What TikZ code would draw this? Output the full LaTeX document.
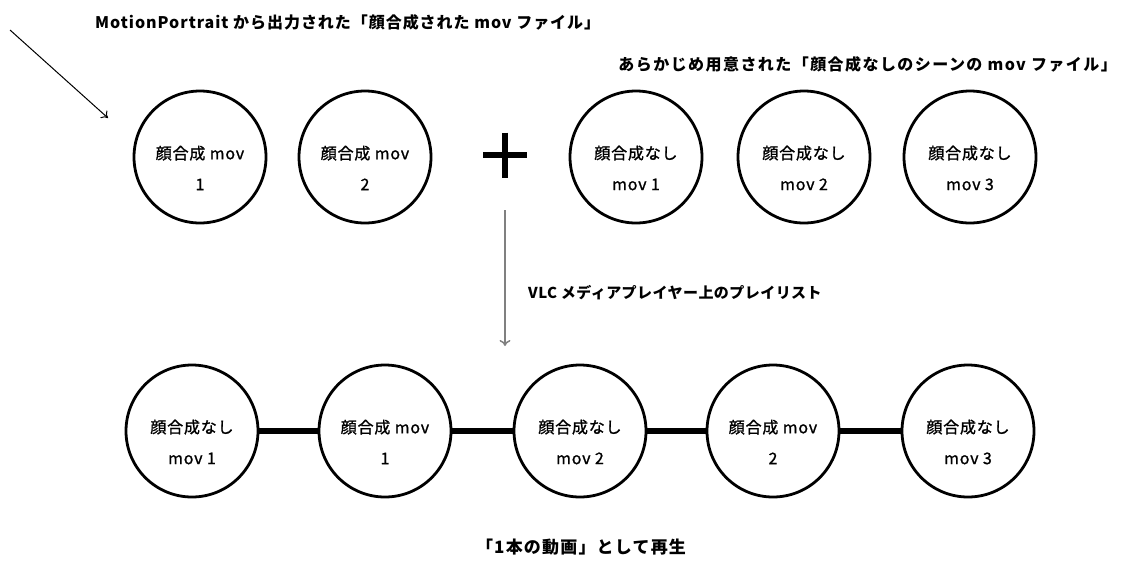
\documentclass[tikz,border=0pt]{standalone}
\usepackage{fontspec}
\setmainfont{Noto Sans CJK JP}
\newfontfamily\circfont{Noto Sans CJK JP}[FakeBold=1.2]
\usetikzlibrary{arrows.meta}
\begin{document}
\begin{tikzpicture}[x=1pt,y=-1pt,
  circ/.style={draw, circle, line width=2.8pt, minimum size=132pt, inner sep=0pt},
  ctext/.style={align=center, font=\circfont\addfontfeature{LetterSpace=5}\fontsize{16}{31}\selectfont, inner sep=0pt},
  lbl/.style={inner sep=0pt},
  link/.style={line width=5.5pt},
  plusbar/.style={line width=5.5pt},
  thinarrow/.style={line width=1pt, -{To[length=6pt,width=10pt]}},
  grayarrow/.style={line width=1.5pt, draw=black!50, -{To[length=6pt,width=11pt]}}]
\useasboundingbox (0,0) rectangle (1126,560);

% top row
\node[circ] (t1) at (200,157) {};
\node[circ] (t2) at (365,157) {};
\node[circ] (t3) at (636,157) {};
\node[circ] (t4) at (804,157) {};
\node[circ] (t5) at (970,157) {};
\node[ctext] at ([yshift=-11pt]t1.center) {顔合成 mov\\1};
\node[ctext] at ([yshift=-11pt]t2.center) {顔合成 mov\\2};
\node[ctext] at ([yshift=-11pt]t3.center) {顔合成なし\\mov 1};
\node[ctext] at ([yshift=-11pt]t4.center) {顔合成なし\\mov 2};
\node[ctext] at ([yshift=-11pt]t5.center) {顔合成なし\\mov 3};

% plus sign
\coordinate (plus) at (505,155);
\draw[plusbar] ([xshift=-22pt]plus) -- ([xshift=22pt]plus);
\draw[plusbar] ([yshift=22.5pt]plus) -- ([yshift=-22.5pt]plus);

% labels
\node[lbl, anchor=west, font=\bfseries\addfontfeature{LetterSpace=6}\fontsize{16}{20}\selectfont] (lab1) at (95,22) {MotionPortrait から出力された「顔合成された mov ファイル」};
\node[lbl, anchor=east, font=\bfseries\addfontfeature{LetterSpace=9}\fontsize{16}{20}\selectfont] (lab2) at (1117,64) {あらかじめ用意された「顔合成なしのシーンの mov ファイル」};
\node[lbl, anchor=west, font=\bfseries\addfontfeature{LetterSpace=3}\fontsize{15}{18}\selectfont] (lab3) at (528,293) {VLC メディアプレイヤー上のプレイリスト};
\node[lbl, font=\bfseries\addfontfeature{LetterSpace=7}\fontsize{17}{20}\selectfont] (lab4) at (581,547) {「1本の動画」として再生};

% arrows
\coordinate (a0) at (10,30);
\coordinate (a1) at (108,118);
\draw[thinarrow] (a0) -- (a1);
\coordinate (g0) at (505,210);
\coordinate (g1) at (505,346);
\draw[grayarrow] (g0) -- (g1);

% bottom row
\node[circ] (b1) at (192,431) {};
\node[circ] (b2) at (385,431) {};
\node[circ] (b3) at (580,431) {};
\node[circ] (b4) at (773,431) {};
\node[circ] (b5) at (968,431) {};
\draw[link] (b1) -- (b2);
\draw[link] (b2) -- (b3);
\draw[link] (b3) -- (b4);
\draw[link] (b4) -- (b5);
\node[ctext] at ([yshift=-11pt]b1.center) {顔合成なし\\mov 1};
\node[ctext] at ([yshift=-11pt]b2.center) {顔合成 mov\\1};
\node[ctext] at ([yshift=-11pt]b3.center) {顔合成なし\\mov 2};
\node[ctext] at ([yshift=-11pt]b4.center) {顔合成 mov\\2};
\node[ctext] at ([yshift=-11pt]b5.center) {顔合成なし\\mov 3};
\end{tikzpicture}
\end{document}
